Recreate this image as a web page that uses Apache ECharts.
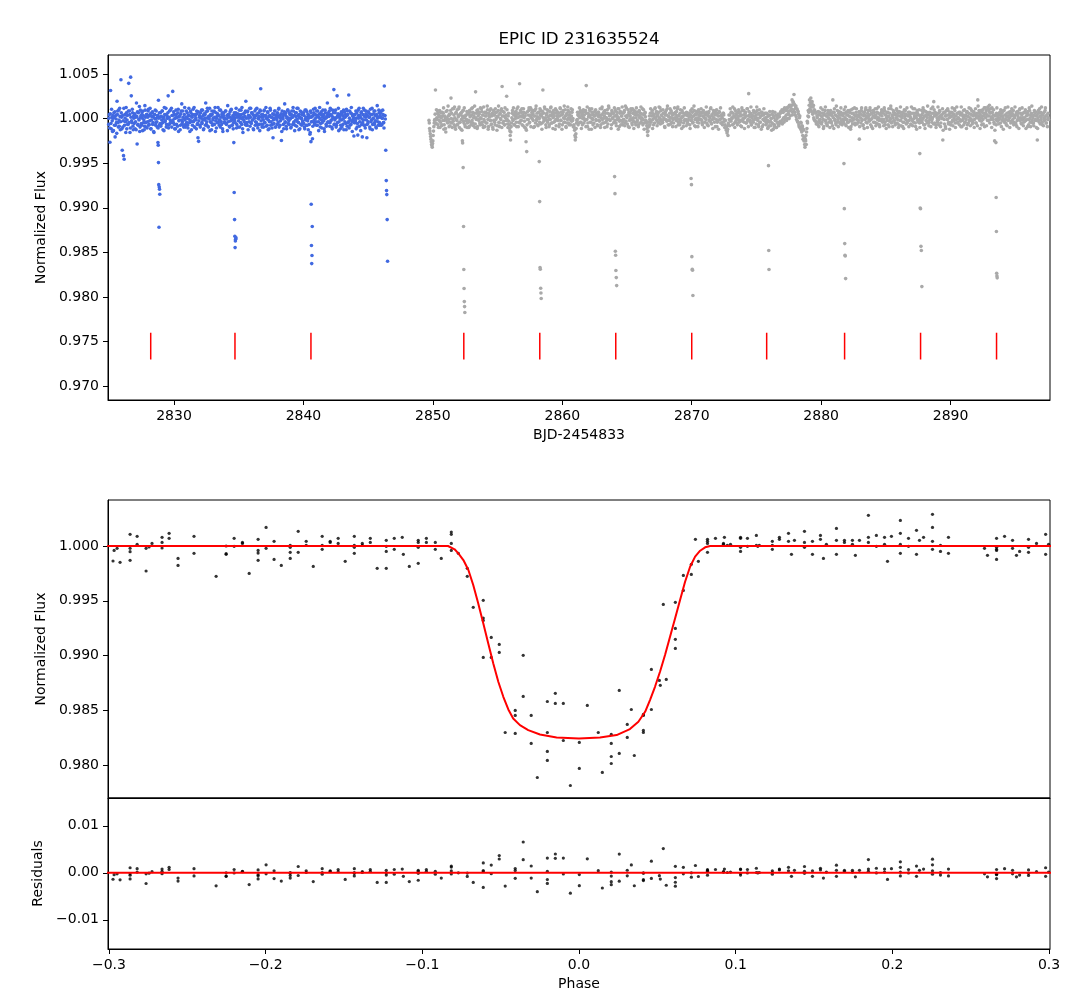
<!DOCTYPE html>
<html><head><meta charset="utf-8">
<script src="https://cdn.jsdelivr.net/npm/echarts@6.0.0/dist/echarts.min.js"></script>
<style>html,body{margin:0;padding:0;background:#fff}#c{width:1076px;height:1000px}</style>
</head><body><div id="c"></div>
<script>
// ---------------- DATA ----------------
const titleText = 'EPIC ID 231635524';
const cadence = 0.05;            // days between stored samples of one list; list B is offset by half a cadence
// Campaign part 1 (blue): flux deviations in units of 1e-4 around blueBase
const blueT0 = 2824.95, blueBase = 0.99985;
const blueDevA = [
-5,6,-25,33,-10,3,-13,2,8,-6,-19,5,-3,21,10,-8,0,13,-11,45,
3,-34,-8,-40,-44,6,-2,14,-10,5,-5,41,10,-14,48,27,-3,8,-11,2,
6,-10,3,19,-27,-5,8,0,-13,11,5,-6,2,10,-3,-11,16,3,-8,6,
-2,10,-6,5,13,-10,0,8,-5,3,-14,6,11,-3,2,-8,5,22,-6,3,
8,-5,0,10,-11,3,14,-2,6,-8,5,2,27,-6,10,0,-3,13,5,32,
-3,6,-10,2,11,-5,3,8,-13,0,5,-6,10,18,-2,3,-8,6,0,-5,
10,2,-6,5,13,-3,0,8,-11,3,6,-2,14,-8,5,0,10,-5,-20,-24,
3,-6,8,2,-3,11,5,-10,0,6,19,-5,2,10,-8,3,13,-2,5,-11,
6,0,-5,10,3,-13,8,2,-3,14,5,-6,0,11,-2,6,-10,3,8,-3,
2,10,-5,5,16,-2,6,-8,3,11,0,-6,5,-3,8,2,6,13,-5,3,
-8,5,11,2,-3,6,14,-10,3,0,8,-5,21,2,-6,10,5,-2,13,3,
-3,8,0,6,-11,3,10,-2,5,13,-6,2,8,-5,11,35,3,-8,6,0,
10,-3,5,14,2,-6,8,0,-10,5,11,-2,3,-5,-20,6,2,10,-8,5,
0,8,-3,13,5,-6,2,-23,10,3,-5,6,18,-2,8,-10,3,11,0,-5,
6,2,-8,10,3,14,-3,5,-6,0,8,13,-2,5,-11,3,10,-5,2,6,
-3,8,5,-10,0,11,3,-6,6,2,-5,-16,10,3,-2,-21,5,8,-3,13,
2,-6,5,10,-2,3,14,-8,6,0,-3,11,5,-10,2,8,-5,3,19,-2,
5,10,-3,6,0,-8,11,3,34,-5,8,2,-6,27,5,13,-2,3,-10,6,
0,8,-5,11,3,-2,6,-11,5,10,-3,28,2,-6,8,14,-2,5,0,-18,
6,-3,10,2,-8,-17,5,13,-2,3,8,-5,-19,6,0,11,-6,3,10,-20,
5,-2,8,3,-10,6,0,13,-5,2,10,-3,5,-8,6,16,-2,3,8,-6,
3,10,-5,2,6,-3,38,5
];
const blueDevB = [
2,-9,7,-4,12,-1,5,-12,3,9,-6,1,-15,6,-3,11,-7,4,-2,8,
-10,5,-1,13,-6,2,-14,8,0,-5,10,-3,6,-9,3,-1,12,-7,4,-4,
7,-2,-11,4,9,-6,1,15,-8,3,-4,8,-12,5,0,-7,11,-3,6,-9,
3,12,-5,-1,7,-10,4,9,-3,-13,6,1,-6,10,-2,5,-9,2,8,-4,
-7,4,10,-3,1,-12,6,-1,13,-5,2,8,-9,3,-4,11,-2,-8,5,0,
9,-5,2,-10,6,3,-7,12,-1,4,-11,7,0,-4,10,-6,1,14,-8,3,
-3,8,-9,1,5,-13,10,-2,4,-6,12,-1,-8,6,2,-10,7,-4,9,-1,
5,-8,3,11,-4,0,-11,7,2,-6,9,-2,13,-7,4,1,-12,6,-3,10,
-6,2,9,-5,14,-1,-9,4,7,-3,0,11,-8,3,-5,8,-13,5,1,-2,
10,-4,1,-12,6,3,-7,9,-1,12,-6,2,-10,5,0,-3,8,-9,4,7,
-1,6,-8,3,11,-5,1,-14,7,-2,4,10,-6,-3,9,-11,2,5,-7,13,
-4,8,0,-10,5,2,-6,12,-3,7,-9,1,4,-12,10,-1,6,-5,3,-8,
11,-3,5,-7,1,9,-11,4,-2,13,-6,3,-9,7,0,-4,10,-8,2,6,
-5,3,12,-8,4,-1,7,-13,6,1,-10,9,-3,5,-7,2,11,-4,-1,8,
1,-9,6,3,-5,10,-2,-12,8,4,-7,1,13,-3,6,-10,2,9,-6,-1,
7,-4,-8,11,2,-6,9,-1,-11,5,3,-14,8,-2,4,-7,12,0,-5,6,
-2,10,-6,4,-12,7,1,-4,9,-9,3,6,-1,-13,11,2,-7,5,-3,8,
4,-7,13,-1,5,-10,2,8,-5,0,11,-8,3,-3,7,-12,6,1,-6,9,
-8,5,1,-11,9,3,-4,12,-7,6,-2,-9,10,0,-5,7,-13,4,2,-3,
6,-1,-10,8,-4,11,2,-7,5,-12,9,1,-3,13,-6,4,-9,7,0,-5,
-4,9,3,-8,12,-2,6,-11,1,7,-5,10,-1,-9,4,2,-6,11,-3,5,
8,-6,2,11,-3,-9,5,1
];
// Campaign part 2 (gray)
const grayT0 = 2849.70, grayBase = 1.0001;
const grayDevA = [
-3,-12,-18,-24,-30,-33,-26,-15,-6,-2,31,-6,0,8,-8,3,-3,-11,6,0,
-8,2,5,-13,-3,0,-16,-2,8,-6,2,-10,3,-5,22,5,-11,-2,10,-8,
0,-13,6,-3,-8,3,10,-11,-5,5,-2,-14,2,8,-6,0,-10,3,-2,-11,
5,-3,-10,6,2,-8,3,11,-6,0,5,-11,29,-2,8,-10,2,-3,6,-8,
0,10,-5,3,-11,-2,6,2,-6,5,13,-2,-10,3,8,-3,-8,2,5,-13,
-3,3,-8,6,0,-14,2,8,-5,-10,5,-2,10,35,-6,2,6,-8,0,3,
24,-2,-11,5,-8,-15,-25,-10,0,8,-3,3,-8,6,2,-5,10,0,-10,5,
38,2,-3,6,-8,3,10,0,-11,5,-27,-38,-2,3,8,-6,2,11,0,6,
3,-3,8,-10,2,10,-2,5,-8,6,0,-5,3,8,2,-6,31,5,-2,10,
0,-11,5,-3,8,-2,-8,3,11,2,-6,6,0,-5,5,-13,-2,8,2,-3,
5,-10,2,10,-3,3,-8,6,0,13,-5,2,-11,5,-2,8,-6,3,0,-8,
2,6,-3,-10,-8,-14,-25,-18,-6,-2,3,-6,5,0,8,-5,2,-8,6,0,
3,-3,8,36,-2,-10,5,2,10,-5,0,-13,6,-2,3,-6,2,8,-2,5,
-8,2,6,-3,3,-11,0,10,-2,5,-6,2,8,-5,0,-10,5,-2,11,2,
-3,3,-8,6,0,5,-5,2,8,-6,3,-2,10,0,-10,5,-3,6,2,-8,
5,-2,8,-6,2,11,0,3,-10,6,-3,2,10,-2,-8,5,0,8,-5,3,
0,6,-3,3,-8,8,2,5,-5,0,10,-2,-6,3,6,-3,-6,-12,-20,-9,
-10,-2,5,-5,2,8,-2,-8,3,10,0,5,-3,2,-6,6,0,11,-2,3,
2,-5,5,0,-10,6,-2,3,10,-3,2,-8,5,0,8,-5,3,-2,-6,5,
0,6,-3,2,10,-8,3,-2,5,-5,0,8,2,-10,5,-3,3,-2,6,-6,
2,-2,5,-8,3,-3,0,6,-5,2,8,-2,-10,3,5,-3,0,-6,6,2,
-2,5,-6,2,8,0,-5,3,-2,6,-8,2,5,-3,0,10,-6,3,-2,5,
0,-5,3,8,-2,-10,5,-3,2,6,-2,-6,3,0,-5,5,-2,-11,-3,-12,
-10,-15,-20,-8,-2,3,-3,6,0,-8,5,2,10,-5,0,3,-6,6,-2,2,
5,-3,2,-10,8,-2,3,-5,0,6,-6,2,10,-2,27,3,-3,5,-8,0,
2,-5,6,-2,-11,3,0,8,-3,-8,5,0,-5,2,6,-10,-2,3,-3,5,
0,-8,5,-3,-11,2,-5,3,-9,-1,-6,7,-13,0,-8,-3,3,-11,-1,-6,
-8,3,-6,5,-4,6,-7,8,0,10,-2,9,3,11,-1,12,4,14,2,13,
10,20,6,17,26,14,3,13,-2,9,-5,4,-10,2,-12,-6,-16,-10,-24,-14,
-22,-33,-26,-30,-12,-6,8,6,20,14,22,12,18,4,14,-2,8,-4,5,-6,
0,-8,3,-3,6,-6,2,-5,5,-2,-10,3,8,-3,2,-8,5,0,-5,3,
-2,5,-6,2,20,0,6,-3,3,-8,2,8,-2,5,-5,0,6,-6,3,-2,
2,-3,5,0,-8,6,-2,3,-5,2,8,-3,-10,5,0,10,-2,3,-6,2,
6,-2,3,-5,2,-24,5,0,8,-3,3,-8,2,6,-2,11,0,-6,5,2,
-3,3,8,-2,-10,5,2,-5,6,0,3,-6,10,-2,5,0,-8,3,-3,6,
2,-5,5,-2,8,-8,3,0,-3,6,2,-10,5,-2,10,-5,3,0,6,-3,
-6,3,0,8,-2,5,-8,2,6,-3,3,0,-10,5,-5,2,8,-2,3,-6,
2,6,-3,3,0,-8,5,-2,10,-5,2,5,-10,0,6,-3,3,-2,-6,2,
-2,3,-5,5,0,8,-8,2,-3,6,0,3,-6,5,-2,2,10,-5,0,5,
18,2,6,-8,3,0,-5,5,-2,8,2,-6,3,0,-25,5,-2,6,-10,2,
3,-2,8,-5,0,5,-8,2,6,-3,3,0,10,-6,2,-2,5,-5,0,6,
-2,3,-10,5,-3,2,8,0,-5,3,-2,6,-8,2,5,-3,0,10,-2,3,
-5,2,6,-2,3,-6,0,5,20,2,8,-3,3,0,-8,6,-2,2,11,5,
0,8,3,-3,10,2,14,5,-2,6,11,0,3,-5,-26,2,-2,5,-3,0,
3,-2,6,-6,2,5,-3,0,8,-5,3,-2,-8,5,2,-3,6,0,3,-6,
2,5,-2,8,-5,0,3,-8,6,-3,2,5,-2,10,0,-6,3,-2,5,-5,
0,6,-3,2,5,-10,3,-2,8,-5,2,5,-3,0,-6,3,6,-2,2,-3,
-25,0,5,-5,2,6,-2,3,-8,5,0,-3,8,2,-6,3,-2,0
];
const grayDevB = [
-6,-15,-21,-27,-31,-29,-20,-10,-3,4,-7,9,-2,5,-11,1,8,-5,2,-9,
6,-3,11,-8,2,-12,7,0,-5,13,-2,4,-9,8,-1,-6,10,-4,3,12,
-10,5,-2,9,-7,1,12,-5,3,-13,6,-1,8,-4,11,-8,2,-3,7,-6,
4,-11,8,1,-5,10,-3,6,-9,2,13,-7,0,5,-12,9,-2,4,-6,11,
-1,7,-8,3,12,-4,-10,6,2,-6,9,-13,5,1,-3,10,-7,4,-11,8,
3,-5,10,-2,6,-9,1,13,-6,4,-1,8,-11,2,7,-4,-8,11,0,-3,
9,-7,2,-4,-12,-20,-16,-6,5,-2,11,-8,3,-1,7,-10,4,12,-5,1,
-6,8,-3,10,1,-9,6,-4,2,-12,-14,-8,7,-2,11,-5,3,-10,9,-1,
5,-11,2,8,-6,13,-3,1,-9,6,-1,10,-7,4,-13,7,0,-4,12,-2,
-8,3,9,-5,1,-10,7,-2,12,-6,4,-12,8,2,-4,10,-9,5,-1,6,
2,-7,11,-3,6,-13,4,8,-5,-1,9,-10,3,-6,12,0,-8,6,-2,10,
-4,9,-1,-9,-11,-20,-22,-12,-3,6,-8,2,11,-5,7,-12,4,-1,9,-6,
7,-2,-10,5,12,-6,1,-13,8,3,-5,10,-1,-8,6,2,-11,9,-3,4,
-9,6,1,-4,10,-8,3,12,-6,-1,7,-11,5,0,-3,9,-7,13,-2,4,
3,-12,8,-1,5,-6,11,-3,2,-9,6,1,-13,10,-4,7,-8,2,12,-5,
-2,6,-9,13,-4,1,-7,9,3,-11,5,-1,8,-6,10,-3,-12,4,7,-8,
11,-5,3,-10,7,0,-6,12,-2,4,-8,9,-13,5,1,-4,-9,-16,-15,-5,
2,-8,10,-3,6,-12,4,1,-6,11,-1,7,-9,3,-5,12,-2,-7,8,-4,
-6,9,-2,5,-11,3,8,-4,13,-8,1,-3,10,-7,6,0,-10,4,-1,11,
4,-10,7,-1,12,-5,2,-8,9,-3,-12,6,1,-6,11,-2,5,-9,3,-4,
-7,5,1,-12,8,-3,10,-6,2,13,-9,4,-1,7,-5,-10,9,3,-2,6,
10,-3,-8,6,2,-11,5,-1,12,-6,3,-9,7,1,-4,11,-7,2,-12,8,
-1,6,-10,4,9,-5,2,-13,7,-2,11,-6,1,-8,5,3,-4,-8,-10,-14,
-17,-13,-6,3,-9,10,-4,6,-1,12,-7,2,-11,8,-3,5,-8,1,9,-5,
6,-9,3,11,-4,-1,8,-12,5,2,-6,10,-3,-10,7,1,-5,12,-8,3,
-3,8,-11,1,6,-7,12,-2,4,-10,9,-5,2,-13,6,3,-8,10,-1,-4,
5,-6,1,-12,3,-9,7,-4,-1,-14,4,-7,2,-10,6,-3,-11,1,-5,4,
-9,1,-4,7,-6,9,-2,6,-5,11,1,8,-3,10,4,7,-1,12,8,14,
14,3,18,9,15,6,11,1,10,-4,7,-8,0,-11,-5,-14,-9,-20,-13,-26,
-30,-24,-20,-16,-4,2,1,14,10,17,8,16,6,12,0,9,-3,6,-7,2,
-5,7,-10,4,-2,11,-7,1,9,-12,5,-3,12,-6,2,-9,8,-1,6,-11,
8,-4,3,-9,6,-12,10,-2,-6,13,-5,1,-10,7,3,-7,11,-3,-8,5,
-6,9,-2,12,-9,3,-5,8,-11,6,1,-13,9,-4,-7,5,-1,11,-8,2,
10,-7,1,-3,7,-10,4,-6,11,-2,-9,6,-12,3,9,-5,2,-11,8,-1,
-4,11,-8,5,-1,-12,8,2,-5,10,-9,1,6,-7,12,-3,-10,4,-2,9,
7,-2,-9,11,-5,3,-12,6,1,-8,10,-4,-1,13,-6,2,-10,8,-3,5,
-8,4,10,-6,2,-11,7,-3,12,-9,1,6,-5,-12,9,-1,4,-7,11,-4,
3,-10,6,1,-7,12,-3,-9,5,-1,10,-6,2,-13,8,4,-5,9,-11,1,
-5,8,-2,11,-8,2,-12,7,3,-6,13,-4,-9,6,1,-10,5,-2,12,-7,
9,-6,4,-11,5,-3,12,-8,1,7,-10,3,-1,10,-14,6,-7,2,-12,8,
-2,10,-7,3,-13,6,1,-5,11,-9,4,-3,8,-11,2,12,-6,5,-1,-8,
6,-4,12,-10,3,-1,-8,9,-5,2,-12,7,1,-6,11,-3,-9,4,8,-7,
-3,7,-11,4,10,-6,2,-9,13,-1,5,-12,8,-4,1,9,-7,3,-10,11,
5,-9,2,12,-3,7,-6,10,1,-11,6,-2,9,-7,-14,3,-8,11,-4,2,
-7,4,-1,9,-10,6,2,-13,8,-3,11,-6,1,-9,12,-2,5,-11,7,-4,
10,-5,3,-8,1,12,-6,4,-10,7,-1,-12,9,-3,5,-7,11,0,-9,6,
-4,9,-12,5,-2,7,-8,11,-1,-10,4,13,-6,2,-9,8,-3,6,-11,3,
-12,8,-3,10,-7,1,12,-5,3,-9,6,-1,11,-6,2,-10,5,-2
];
// In-transit samples [BJD-2454833, flux]
const blueTransits = [
[2828.76,0.99731],[2828.78,0.99701],[2828.80,0.99507],[2828.82,0.99260],[2828.84,0.98782],[2828.86,0.99233],[2828.88,0.99208],[2828.90,0.99152],
[2834.62,0.99731],[2834.65,0.99171],[2834.68,0.98868],[2834.70,0.98681],[2834.72,0.98554],[2834.74,0.98628],[2834.76,0.98647],[2834.79,0.98663],
[2840.58,0.99742],[2840.60,0.99040],[2840.62,0.98577],[2840.64,0.98375],[2840.66,0.98465],[2840.68,0.98790],
[2846.36,0.99645],[2846.40,0.99305],[2846.42,0.99193],[2846.44,0.99148],[2846.47,0.98868],[2846.50,0.98401]
];
const grayTransits = [
[2852.28,0.99751],[2852.30,0.99727],[2852.34,0.99451],[2852.37,0.98790],[2852.39,0.98308],[2852.41,0.98095],[2852.43,0.97949],[2852.45,0.97893],[2852.47,0.97826],
[2858.22,0.99518],[2858.25,0.99070],[2858.28,0.98330],[2858.30,0.98311],[2858.33,0.98098],[2858.35,0.98046],[2858.37,0.97983],
[2864.04,0.99350],[2864.07,0.99159],[2864.10,0.98513],[2864.12,0.98468],[2864.14,0.98297],[2864.17,0.98218],[2864.20,0.98128],
[2869.95,0.99328],[2869.98,0.99260],[2870.01,0.98453],[2870.04,0.98311],[2870.06,0.98300],[2870.09,0.98017],
[2875.93,0.99473],[2875.95,0.98521],[2875.97,0.98308],
[2881.76,0.99496],[2881.79,0.98991],[2881.82,0.98599],[2881.84,0.98468],[2881.86,0.98460],[2881.89,0.98207],
[2887.62,0.99608],[2887.65,0.98998],[2887.68,0.98990],[2887.71,0.98568],[2887.74,0.98521],[2887.78,0.98117],
[2893.50,0.99731],[2893.52,0.99115],[2893.54,0.98734],[2893.56,0.98266],[2893.58,0.98237],[2893.60,0.98215]
];
// Predicted transit times (red marks) and their vertical extent
const transitMarks = [2828.20,2834.71,2840.58,2852.39,2858.26,2864.13,2870.00,2875.79,2881.81,2887.68,2893.55];
const markLow = 0.973, markHigh = 0.976;

// Phase-folded data [phase, flux]
const foldPoints = [
[-0.2974,0.99863],[-0.2967,0.99960],[-0.2948,0.99979],[-0.2929,0.99851],
[-0.2865,1.00107],[-0.2865,0.99979],[-0.2865,0.99948],[-0.2865,0.99869],
[-0.2820,1.00088],[-0.2820,1.00015],[-0.2763,0.99772],[-0.2763,0.99979],[-0.2744,0.99991],[-0.2725,1.00024],
[-0.2661,1.00079],[-0.2661,1.00033],[-0.2661,0.99982],[-0.2616,1.00116],[-0.2616,1.00070],
[-0.2559,0.99887],[-0.2559,0.99823],[-0.2457,1.00088],[-0.2457,0.99933],[-0.2316,0.99723],
[-0.2252,1.00000],[-0.2252,0.99930],[-0.2252,0.99924],[-0.2201,1.00070],[-0.2201,0.99997],
[-0.2148,1.00033],[-0.2148,1.00024],[-0.2105,0.99750],
[-0.2048,1.00061],[-0.2048,0.99960],[-0.2048,0.99936],[-0.2048,0.99869],
[-0.1997,1.00170],[-0.1997,0.99979],[-0.1946,1.00043],[-0.1946,0.99878],[-0.1900,0.99823],
[-0.1843,1.00006],[-0.1843,0.99988],[-0.1843,0.99942],[-0.1843,0.99887],
[-0.1792,1.00134],[-0.1792,0.99942],[-0.1741,1.00043],[-0.1741,1.00006],[-0.1696,0.99814],
[-0.1639,1.00088],[-0.1639,1.00006],[-0.1639,0.99970],[-0.1588,1.00043],[-0.1588,1.00033],
[-0.1537,1.00070],[-0.1537,1.00024],[-0.1492,0.99860],
[-0.1434,1.00088],[-0.1434,1.00006],[-0.1434,0.99988],[-0.1434,0.99933],
[-0.1383,1.00024],[-0.1383,1.00006],[-0.1332,1.00070],[-0.1332,1.00033],[-0.1288,0.99796],
[-0.1230,1.00052],[-0.1230,0.99997],[-0.1230,0.99951],[-0.1230,0.99796],
[-0.1179,1.00070],[-0.1179,0.99970],[-0.1128,1.00079],[-0.1121,0.99924],[-0.1083,0.99814],
[-0.1026,1.00052],[-0.1026,1.00033],[-0.1026,0.99988],[-0.1026,0.99842],
[-0.0974,1.00070],[-0.0974,1.00033],[-0.0917,1.00033],[-0.0917,0.99970],
[-0.0879,0.99887],[-0.0815,1.00128],[-0.0815,1.00107],[-0.0815,1.00024],[-0.0815,0.99960],
[-0.0770,0.99933],[-0.0713,0.99796],[-0.0713,0.99723],[-0.0675,0.99440],
[-0.0611,0.99504],[-0.0611,0.99342],[-0.0611,0.99321],[-0.0611,0.98983],
[-0.0560,0.99166],[-0.0560,0.98983],[-0.0509,0.99102],[-0.0509,0.99029],[-0.0471,0.98298],
[-0.0407,0.98499],[-0.0407,0.98454],[-0.0407,0.98289],[-0.0356,0.99002],[-0.0356,0.98627],
[-0.0305,0.98454],[-0.0305,0.98198],[-0.0266,0.97887],
[-0.0202,0.98581],[-0.0202,0.98298],[-0.0202,0.98125],[-0.0202,0.98043],
[-0.0151,0.98655],[-0.0151,0.98563],[-0.0100,0.98563],[-0.0100,0.98225],[-0.0055,0.97814],
[0.0002,0.98207],[0.0002,0.97970],[0.0053,0.98545],[0.0123,0.98298],[0.0149,0.97933],
[0.0206,0.98280],[0.0206,0.98198],[0.0206,0.98079],[0.0206,0.98015],
[0.0257,0.98682],[0.0257,0.98107],[0.0308,0.98372],[0.0308,0.98253],[0.0334,0.98508],[0.0353,0.98088],
[0.0411,0.98463],[0.0411,0.98454],[0.0411,0.98317],[0.0411,0.98298],
[0.0462,0.98874],[0.0462,0.98508],[0.0513,0.98773],[0.0519,0.98728],[0.0538,0.99467],[0.0557,0.98782],
[0.0615,0.99486],[0.0615,0.99248],[0.0615,0.99148],[0.0615,0.99065],
[0.0666,0.99732],[0.0666,0.99595],[0.0717,0.99833],[0.0717,0.99741],[0.0743,1.00061],[0.0762,0.99860],
[0.0820,1.00061],[0.0820,1.00043],[0.0820,1.00024],[0.0820,0.99942],
[0.0871,1.00070],[0.0922,1.00024],[0.0922,1.00015],[0.0928,1.00079],[0.0947,1.00006],[0.0967,1.00015],
[0.1031,1.00079],[0.1031,1.00070],[0.1031,0.99988],[0.1031,0.99951],
[0.1075,1.00070],[0.1075,0.99997],[0.1132,1.00097],[0.1132,1.00006],[0.1141,0.99997],[0.1151,1.00006],
[0.1234,1.00043],[0.1234,1.00006],[0.1234,0.99970],[0.1279,1.00079],[0.1279,1.00061],
[0.1337,1.00116],[0.1337,1.00043],[0.1356,0.99924],[0.1375,1.00052],
[0.1439,1.00134],[0.1439,1.00033],[0.1439,0.99988],[0.1490,1.00043],[0.1490,0.99924],
[0.1541,1.00097],[0.1541,1.00061],[0.1560,0.99887],[0.1579,1.00015],
[0.1643,1.00161],[0.1643,1.00052],[0.1643,0.99924],[0.1694,1.00052],[0.1694,1.00033],
[0.1745,1.00052],[0.1745,1.00015],[0.1764,0.99915],[0.1790,1.00052],
[0.1847,1.00280],[0.1847,1.00079],[0.1847,1.00033],[0.1898,1.00097],[0.1898,0.99997],
[0.1950,1.00079],[0.1950,1.00015],[0.1969,0.99860],[0.1994,1.00088],
[0.2051,1.00234],[0.2051,1.00116],[0.2051,1.00015],[0.2051,0.99933],
[0.2103,1.00070],[0.2103,0.99997],[0.2154,1.00143],[0.2154,0.99924],[0.2173,1.00052],[0.2199,1.00079],
[0.2256,1.00289],[0.2256,1.00170],[0.2256,1.00043],[0.2256,0.99970],
[0.2307,1.00006],[0.2307,0.99951],[0.2358,1.00079],[0.2358,0.99933],
[0.2588,0.99979],[0.2607,0.99915],
[0.2665,1.00070],[0.2665,0.99988],[0.2665,0.99970],[0.2665,0.99960],[0.2665,0.99878],
[0.2716,1.00088],[0.2767,1.00052],[0.2767,0.99979],[0.2792,0.99915],[0.2812,0.99951],
[0.2869,1.00061],[0.2869,0.99988],[0.2869,0.99942],[0.2920,1.00024],
[0.2978,1.00107],[0.2978,0.99924],[0.2997,1.00015]
];
// Transit model curve [phase, flux]
const modelCurve = [
[-0.302,1.0],[-0.0836,1.0],[-0.0794,0.99970],[-0.0770,0.99933],[-0.0738,0.99872],[-0.0706,0.99781],
[-0.0675,0.99644],[-0.0643,0.99476],[-0.0611,0.99294],[-0.0579,0.99111],[-0.0547,0.98928],
[-0.0515,0.98761],[-0.0483,0.98624],[-0.0451,0.98508],[-0.0420,0.98426],[-0.0377,0.98365],
[-0.0324,0.98320],[-0.0249,0.98280],[-0.0143,0.98253],[0.0000,0.98244],[0.0134,0.98253],
[0.0240,0.98274],[0.0325,0.98329],[0.0379,0.98396],[0.0422,0.98487],[0.0453,0.98594],
[0.0485,0.98715],[0.0517,0.98852],[0.0549,0.99005],[0.0581,0.99172],[0.0613,0.99339],
[0.0645,0.99507],[0.0677,0.99674],[0.0709,0.99811],[0.0741,0.99903],[0.0773,0.99957],
[0.0805,0.99988],[0.0837,1.0],[0.302,1.0]
];
// Axis tick values
const bjdTicks = [2830,2840,2850,2860,2870,2880,2890];
const fluxTicksTop = [0.970,0.975,0.980,0.985,0.990,0.995,1.000,1.005];
const fluxTicksMid = [0.980,0.985,0.990,0.995,1.000];
const phaseTicks = [-0.3,-0.2,-0.1,0.0,0.1,0.2,0.3];
const residTicks = [-0.01,0.00,0.01];

// ---------------- BUILD ----------------
const toPts = (devs, t0, base) => devs.map((d,i)=>[t0 + i*cadence, base + d*1e-4]);
const blueData = toPts(blueDevA, blueT0, blueBase)
  .concat(toPts(blueDevB, blueT0 + cadence/2, blueBase), blueTransits);
const grayData = toPts(grayDevA, grayT0, grayBase)
  .concat(toPts(grayDevB, grayT0 + cadence/2, grayBase), grayTransits);
function modelAt(p){
  for(let i=0;i<modelCurve.length-1;i++){
    const a=modelCurve[i], b=modelCurve[i+1];
    if(p>=a[0] && p<=b[0]) return a[1] + (b[1]-a[1])*(p-a[0])/(b[0]-a[0]);
  }
  return 1.0;
}
const residPoints = foldPoints.map(([p,f])=>[p, f - modelAt(p)]);
const markData = transitMarks.map(t=>[t, markLow, markHigh]);

const FONT = 'DejaVu Sans';
const fmt = (v,d)=>{ let s = (Math.abs(v)<1e-12?0:v).toFixed(d); return s.replace('-', '\u2212'); };
const L = 108, W = 942;
function axisCommon(ticks, d, showLabels){
  return {
    axisLine:{show:true, onZero:false, lineStyle:{color:'#000', width:1}},
    axisTick:{show:showLabels, inside:false, length:5, lineStyle:{color:'#000', width:1}, customValues: ticks},
    axisLabel:{show:showLabels, customValues: ticks, color:'#000', fontFamily:FONT, fontSize:14, margin:9,
      formatter:(v)=>fmt(v,d)},
    splitLine:{show:false},
    nameTextStyle:{color:'#000', fontFamily:FONT, fontSize:14}
  };
}

const chart = echarts.init(document.getElementById('c'), null, {renderer:'canvas'});
chart.setOption({
  animation:false,
  backgroundColor:'#fff',
  textStyle:{fontFamily:FONT},
  graphic:[{type:'text', x:579, y:40, style:{text:titleText, fill:'#000', font:'16.7px "DejaVu Sans"', textAlign:'center', textVerticalAlign:'middle'}}],
  grid:[
    {left:L, top:55, width:W, height:345, show:true, borderColor:'#000', borderWidth:1, backgroundColor:'transparent'},
    {left:L, top:500, width:W, height:298, show:true, borderColor:'#000', borderWidth:1, backgroundColor:'transparent'},
    {left:L, top:798, width:W, height:151, show:true, borderColor:'#000', borderWidth:1, backgroundColor:'transparent'}
  ],
  xAxis:[
    Object.assign({type:'value', gridIndex:0, min:2824.90, max:2897.68, name:'BJD-2454833', nameLocation:'middle', nameGap:28}, axisCommon(bjdTicks,0,true)),
    Object.assign({type:'value', gridIndex:1, min:-0.3006, max:0.3006}, axisCommon(phaseTicks,1,false)),
    Object.assign({type:'value', gridIndex:2, min:-0.3006, max:0.3006, name:'Phase', nameLocation:'middle', nameGap:28}, axisCommon(phaseTicks,1,true))
  ],
  yAxis:[
    Object.assign({type:'value', gridIndex:0, min:0.96846, max:1.00713, name:'Normalized Flux', nameLocation:'middle', nameGap:54}, axisCommon(fluxTicksTop,3,true)),
    Object.assign({type:'value', gridIndex:1, min:0.9770, max:1.0042, name:'Normalized Flux', nameLocation:'middle', nameGap:54}, axisCommon(fluxTicksMid,3,true)),
    Object.assign({type:'value', gridIndex:2, min:-0.0162, max:0.0159, name:'Residuals', nameLocation:'middle', nameGap:54}, axisCommon(residTicks,2,true))
  ],
  series:[
    {type:'scatter', xAxisIndex:0, yAxisIndex:0, data:blueData, symbolSize:3.6, itemStyle:{color:'#4169E1', opacity:1}, silent:true, large:false, progressive:0},
    {type:'scatter', xAxisIndex:0, yAxisIndex:0, data:grayData, symbolSize:3.6, itemStyle:{color:'#A9A9A9', opacity:1}, silent:true, large:false, progressive:0},
    {type:'custom', xAxisIndex:0, yAxisIndex:0, data:markData, silent:true, z:5,
      renderItem:(params, api)=>{
        const p1 = api.coord([api.value(0), api.value(1)]);
        const p2 = api.coord([api.value(0), api.value(2)]);
        return {type:'line', shape:{x1:p1[0], y1:p1[1], x2:p2[0], y2:p2[1]}, style:{stroke:'#FF0000', lineWidth:1.5}};
      }},
    {type:'scatter', xAxisIndex:1, yAxisIndex:1, data:foldPoints, symbolSize:3.2, itemStyle:{color:'#000'}, silent:true},
    {type:'line', xAxisIndex:1, yAxisIndex:1, data:modelCurve, showSymbol:false, symbol:'none', lineStyle:{color:'#FF0000', width:2}, z:4, silent:true},
    {type:'scatter', xAxisIndex:2, yAxisIndex:2, data:residPoints, symbolSize:3.2, itemStyle:{color:'#000'}, silent:true},
    {type:'line', xAxisIndex:2, yAxisIndex:2, data:[[-0.302,0],[0.302,0]], showSymbol:false, symbol:'none', lineStyle:{color:'#FF0000', width:2}, z:4, silent:true}
  ]
});
</script></body></html>
